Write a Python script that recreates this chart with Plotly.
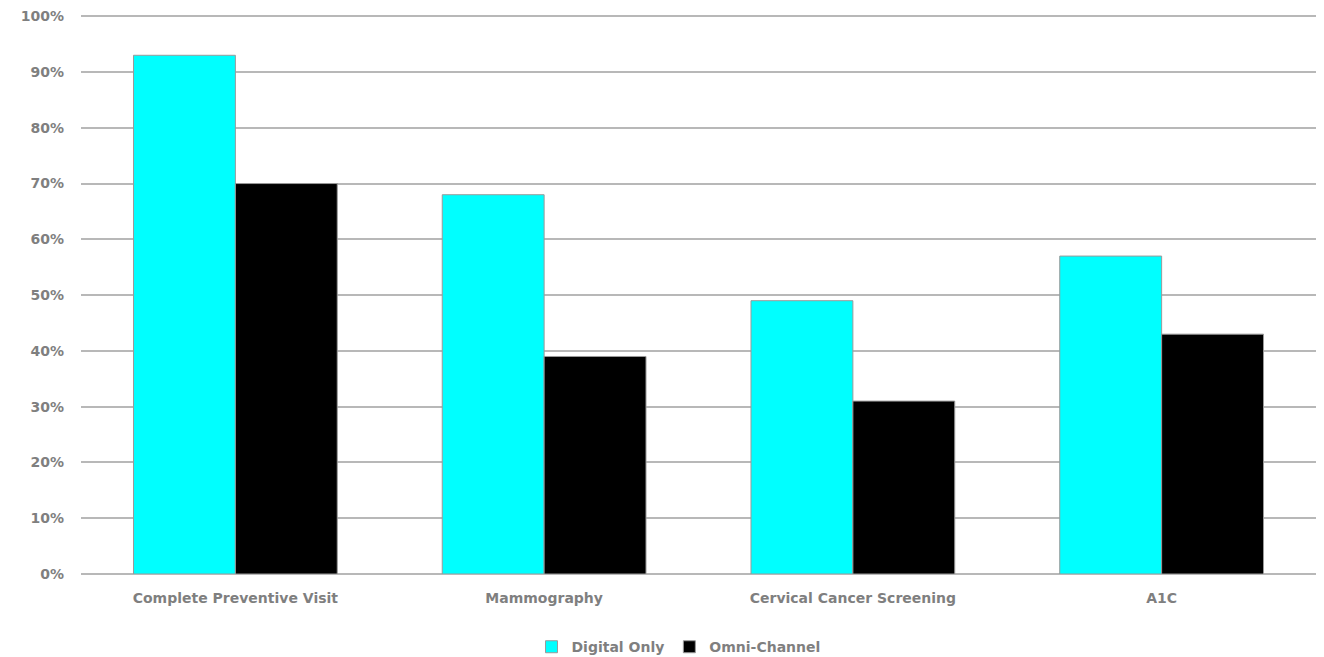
import plotly.graph_objects as go

categories = ["Complete Preventive Visit", "Mammography", "Cervical Cancer Screening", "A1C"]
digital_only = [0.93, 0.68, 0.49, 0.57]
omni_channel = [0.70, 0.39, 0.31, 0.43]
y_ticks = [0, 0.1, 0.2, 0.3, 0.4, 0.5, 0.6, 0.7, 0.8, 0.9, 1.0]
y_tick_labels = ["0%", "10%", "20%", "30%", "40%", "50%", "60%", "70%", "80%", "90%", "100%"]

fig = go.Figure()
fig.add_trace(go.Bar(name="Digital Only", x=categories, y=digital_only,
                     marker=dict(color="#00FFFF", line=dict(color="#9a9a9a", width=1))))
fig.add_trace(go.Bar(name="Omni-Channel", x=categories, y=omni_channel,
                     marker=dict(color="#000000", line=dict(color="#9a9a9a", width=1))))

font_fam = "DejaVu Sans, sans-serif"
txt_color = "#7f7f7f"
fnt = dict(family=font_fam, size=14, color=txt_color, weight="bold")
fig.update_layout(
    width=1324, height=657,
    margin=dict(l=81, r=8, t=14, b=83, autoexpand=False),
    paper_bgcolor="white", plot_bgcolor="white",
    barmode="group", bargap=0.34, bargroupgap=0,
    font=fnt,
    showlegend=True,
    legend=dict(orientation="h", x=0.4838, xanchor="center",
                yref="container", y=0.015, yanchor="middle",
                font=fnt, traceorder="normal"),
    xaxis=dict(showgrid=False, showline=False, zeroline=False, ticks="",
               ticklabelstandoff=14, tickfont=fnt),
    yaxis=dict(range=[0, 1.004], tickvals=y_ticks, ticktext=y_tick_labels,
               showgrid=True, gridcolor="#b8b8b8", gridwidth=2,
               zeroline=True, zerolinecolor="#b8b8b8", zerolinewidth=2,
               showline=False, ticks="", ticklabelstandoff=16,
               tickfont=fnt),
)

fig.write_html("out.html")
